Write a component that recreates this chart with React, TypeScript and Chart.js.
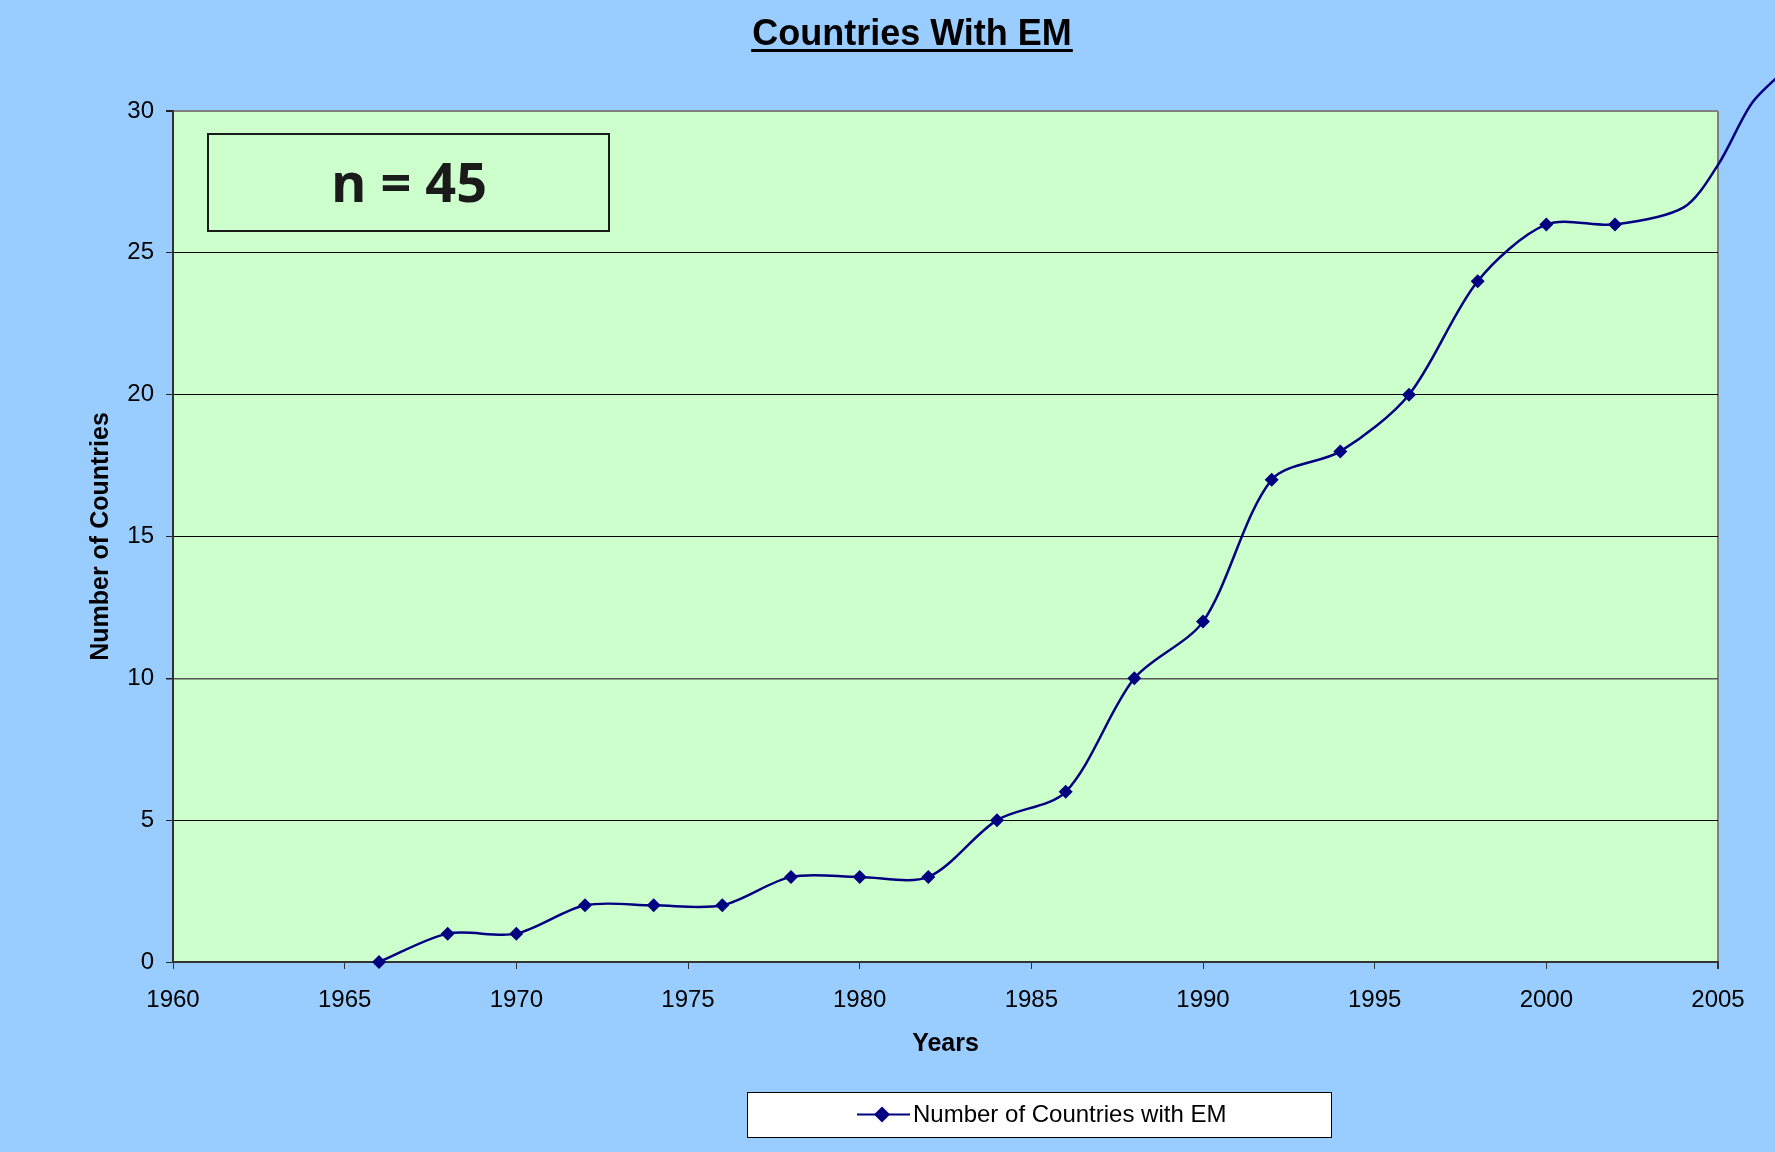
import React, { useEffect, useRef } from "react";
import { Chart, registerables } from "chart.js";

Chart.register(...registerables);

// ---- data ----
const markerYears = [1966, 1968, 1970, 1972, 1974, 1976, 1978, 1980, 1982, 1984, 1986, 1988, 1990, 1992, 1994, 1996, 1998, 2000, 2002];
const markerCounts = [0, 1, 1, 2, 2, 2, 3, 3, 3, 5, 6, 10, 12, 17, 18, 20, 24, 26, 26];
// trailing part of the curve (no markers)
const tailYears = [2004, 2005, 2006, 2007];
const tailCounts = [26.6, 28.1, 30.3, 31.5];

const xTicks = [1960, 1965, 1970, 1975, 1980, 1985, 1990, 1995, 2000, 2005];
const yTicks = [0, 5, 10, 15, 20, 25, 30];

const chartTitle = "Countries With EM";
const xTitle = "Years";
const yTitle = "Number of Countries";
const seriesLabel = "Number of Countries with EM";
const noteText = "n = 45";

const W = 1775;
const H = 1152;

const decorPlugin = {
  id: "decor",
  beforeDraw(chart: any) {
    const { ctx, chartArea } = chart;
    ctx.save();
    ctx.fillStyle = "#99CCFF";
    ctx.fillRect(0, 0, chart.width, chart.height);
    ctx.fillStyle = "#CCFFCC";
    ctx.fillRect(chartArea.left, chartArea.top, chartArea.right - chartArea.left, chartArea.bottom - chartArea.top);
    ctx.restore();
  },
  beforeDatasetsDraw(chart: any) {
    const { ctx } = chart;
    ctx.save();
    // n = 45 box
    ctx.strokeStyle = "#1a1a1a";
    ctx.lineWidth = 2;
    ctx.strokeRect(208, 134, 401, 97);
    ctx.fillStyle = "#1a1a1a";
    ctx.font = "bold 54px 'Open Sans', 'Noto Sans', sans-serif";
    ctx.textAlign = "center";
    ctx.textBaseline = "middle";
    ctx.fillText(noteText, 409, 187);
    ctx.restore();
  },
  afterDraw(chart: any) {
    const { ctx } = chart;
    ctx.save();
    // title
    ctx.fillStyle = "#000";
    ctx.font = "bold 36px 'Liberation Sans', Arial, sans-serif";
    ctx.textAlign = "center";
    ctx.textBaseline = "alphabetic";
    const tx = 912;
    const tBase = 45;
    ctx.fillText(chartTitle, tx, tBase);
    const tw = ctx.measureText(chartTitle).width;
    ctx.fillRect(tx - tw / 2 - 1, 49, tw + 2, 3);

    // legend box
    const lx = 747, ly = 1092, lw = 584, lh = 45;
    ctx.fillStyle = "#ffffff";
    ctx.fillRect(lx, ly, lw, lh);
    ctx.strokeStyle = "#000";
    ctx.lineWidth = 1;
    ctx.strokeRect(lx + 0.5, ly + 0.5, lw, lh);
    const cy = ly + lh / 2;
    ctx.strokeStyle = "#000080";
    ctx.lineWidth = 2;
    ctx.beginPath();
    ctx.moveTo(857, cy);
    ctx.lineTo(910, cy);
    ctx.stroke();
    ctx.fillStyle = "#000080";
    ctx.beginPath();
    const mx = 882;
    ctx.moveTo(mx - 8, cy);
    ctx.lineTo(mx, cy - 8);
    ctx.lineTo(mx + 8, cy);
    ctx.lineTo(mx, cy + 8);
    ctx.closePath();
    ctx.fill();
    ctx.fillStyle = "#000";
    ctx.font = "24px 'Liberation Sans', Arial, sans-serif";
    ctx.textAlign = "left";
    ctx.textBaseline = "middle";
    ctx.fillText(chart.data.datasets[0].label, 913, cy + 1);
    ctx.restore();
  },
};

export default function App() {
  const ref = useRef<HTMLCanvasElement | null>(null);

  useEffect(() => {
    document.body.style.margin = "0";
    document.body.style.overflow = "hidden";
    const canvas = ref.current;
    if (!canvas) return;

    const pts: any[] = [
      ...markerYears.map((x, i) => ({ x, y: markerCounts[i] })),
      ...tailYears.map((x, i) => ({ x, y: tailCounts[i] })),
      // empty terminator: marks the data as unsorted so the line is drawn past the axis end
      { x: null, y: null },
    ];
    const radii = [...markerYears.map(() => 7), ...tailYears.map(() => 0), 0];

    const chart = new Chart(canvas, {
      type: "line",
      data: {
        datasets: [
          {
            label: seriesLabel,
            data: pts,
            borderColor: "#000080",
            backgroundColor: "#000080",
            borderWidth: 2.5,
            pointStyle: "rectRot",
            pointRadius: radii,
            pointBorderWidth: 0,
            pointBackgroundColor: "#000080",
            tension: 0.3,
            capBezierPoints: false,
            spanGaps: false,
            fill: false,
            clip: false as any,
          },
        ],
      },
      plugins: [decorPlugin],
      options: {
        animation: false,
        responsive: false,
        maintainAspectRatio: false,
        layout: { padding: { left: 0, top: 111, right: 57, bottom: 0 } },
        plugins: {
          legend: { display: false },
          title: { display: false },
          tooltip: { enabled: false },
        },
        scales: {
          x: {
            type: "linear",
            min: 1960,
            max: 2005,
            afterFit(scale: any) {
              scale.height = H - 962;
            },
            afterBuildTicks(scale: any) {
              scale.ticks = xTicks.map((v) => ({ value: v }));
            },
            ticks: {
              color: "#000",
              font: { family: "'Liberation Sans', Arial, sans-serif", size: 24 },
              padding: 17,
              maxRotation: 0,
              autoSkip: false,
              callback: (v: any) => String(v),
            },
            grid: {
              drawOnChartArea: true,
              drawTicks: true,
              tickLength: 7,
              color: (c: any) => (c.tick && c.tick.value === 2005 ? "#808080" : "rgba(0,0,0,0)"),
              lineWidth: (c: any) => (c.tick && c.tick.value === 2005 ? 2 : 1),
              tickColor: "#333",
            },
            border: { display: true, color: "#333", width: 2 },
            title: {
              display: true,
              text: xTitle,
              color: "#000",
              font: { family: "'Liberation Sans', Arial, sans-serif", size: 25, weight: "bold" },
              padding: { top: 0, bottom: 93 },
            },
          },
          y: {
            type: "linear",
            min: 0,
            max: 30,
            afterFit(scale: any) {
              scale.width = 173;
            },
            afterBuildTicks(scale: any) {
              scale.ticks = yTicks.map((v) => ({ value: v }));
            },
            ticks: {
              color: "#000",
              font: { family: "'Liberation Sans', Arial, sans-serif", size: 24 },
              padding: 12,
              callback: (v: any) => String(v),
            },
            grid: {
              drawOnChartArea: true,
              drawTicks: true,
              tickLength: 7,
              color: (c: any) => {
                const v = c.tick && c.tick.value;
                if (v === 30) return "#808080";
                if (v === 10) return "#555";
                return "#000";
              },
              lineWidth: (c: any) => {
                const v = c.tick && c.tick.value;
                if (v === 30) return 2;
                if (v === 10) return 1.5;
                return 1;
              },
              tickColor: "#222",
            },
            border: { display: true, color: "#333", width: 2 },
            title: {
              display: true,
              text: yTitle,
              color: "#000",
              font: { family: "'Liberation Sans', Arial, sans-serif", size: 25, weight: "bold" },
              padding: { top: 86, bottom: 0 },
            },
          },
        },
      },
    } as any);

    return () => chart.destroy();
  }, []);

  return (
    <div style={{ width: W, height: H }}>
      <canvas ref={ref} width={W} height={H} style={{ display: "block", width: W, height: H }} />
    </div>
  );
}
